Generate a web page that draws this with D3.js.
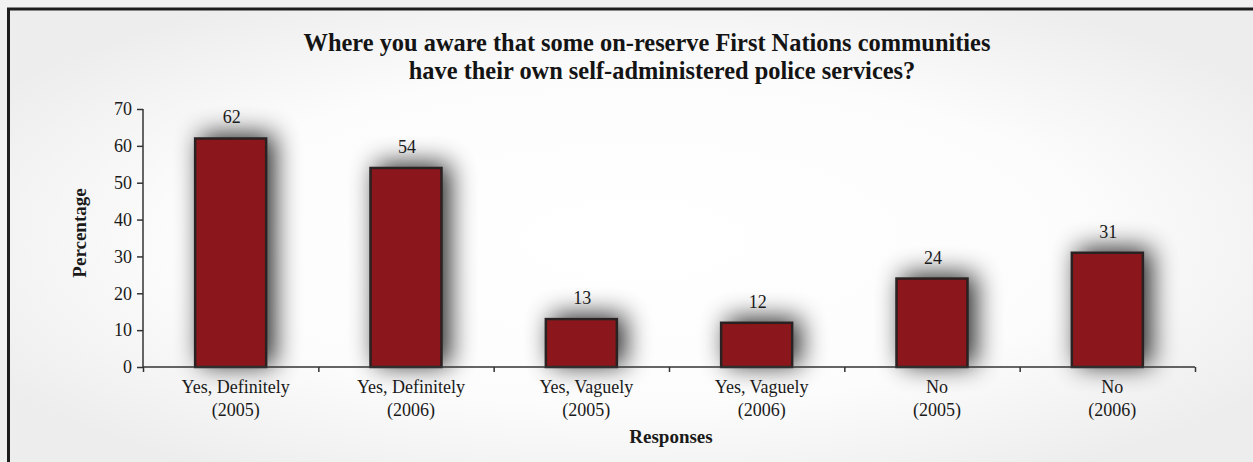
<!DOCTYPE html>
<html><head><meta charset="utf-8">
<script src="https://cdn.jsdelivr.net/npm/d3@7"></script>
<style>body{margin:0;background:#f1f1f1;} svg{display:block;}</style>
</head><body>
<svg id="c" width="1253" height="462"></svg>
<script>
const categories = ["Yes, Definitely|(2005)","Yes, Definitely|(2006)","Yes, Vaguely|(2005)","Yes, Vaguely|(2006)","No|(2005)","No|(2006)"];
const values = [62,54,13,12,24,31];
const yTicks = [0,10,20,30,40,50,60,70];
const titleLines = ["Where you aware that some on-reserve First Nations communities","have their own self-administered police services?"];

const W=1253,H=462;
const svg=d3.select("#c");
const defs=svg.append("defs");
const rg=defs.append("radialGradient").attr("id","bg").attr("cx","50%").attr("cy","50%").attr("r","60%");
rg.append("stop").attr("offset","0%").attr("stop-color","#ffffff");
rg.append("stop").attr("offset","60%").attr("stop-color","#fcfcfc");
rg.append("stop").attr("offset","100%").attr("stop-color","#ededed");
const f=defs.append("filter").attr("id","sh").attr("filterUnits","userSpaceOnUse")
 .attr("x",0).attr("y",0).attr("width",W).attr("height",H);
f.append("feGaussianBlur").attr("in","SourceAlpha").attr("stdDeviation",13).attr("result","b");
f.append("feOffset").attr("in","b").attr("dx",7).attr("dy",-3).attr("result","o");
f.append("feComponentTransfer").attr("in","o").attr("result","o2").append("feFuncA").attr("type","linear").attr("slope",0.85);
const m=f.append("feMerge"); m.append("feMergeNode").attr("in","o2"); m.append("feMergeNode").attr("in","SourceGraphic");

svg.append("rect").attr("width",W).attr("height",H).attr("fill","#f1f1f1");
svg.append("rect").attr("x",8).attr("y",9).attr("width",W).attr("height",H).attr("fill","url(#bg)");
svg.append("path").attr("d",`M8.5,${H} V9 H${W}`).attr("fill","none").attr("stroke","#1e1e1e").attr("stroke-width",3);

const font="'Liberation Serif','Times New Roman',serif";
const x=d3.scaleBand().domain(categories).range([143,1195]).paddingInner(0.595).paddingOuter(0.2975);
const y=d3.scaleLinear().domain([0,70]).range([367,109]);

const g=svg.append("g");
g.selectAll("rect.bar").data(values).join("rect").attr("class","bar")
 .attr("x",(d,i)=>x(categories[i])).attr("width",x.bandwidth())
 .attr("y",d=>y(d)).attr("height",d=>y(0)-y(d))
 .attr("fill","#8b181a").attr("stroke","#2a2222").attr("stroke-width",2.5)
 .attr("filter","url(#sh)");

g.selectAll("text.val").data(values).join("text").attr("class","val")
 .attr("x",(d,i)=>x(categories[i])+x.bandwidth()/2+1).attr("y",d=>y(d)-15)
 .attr("text-anchor","middle").attr("font-family",font).attr("font-size",18).attr("fill","#1a1a1a").text(d=>d);

// axes
const ya=svg.append("g").attr("transform","translate(143,0)")
 .call(d3.axisLeft(y).tickValues(yTicks).tickSize(6).tickPadding(5));
ya.select(".domain").attr("stroke","#333").attr("stroke-width",1.5).attr("d","M0,109V367");
ya.selectAll(".tick line").attr("stroke","#333").attr("stroke-width",1.5);
ya.selectAll("text").attr("font-family",font).attr("font-size",18).attr("fill","#1a1a1a");

const xb=d3.scaleLinear().domain([0,6]).range([143,1195]);
const xa=svg.append("g").attr("transform","translate(0,367)")
 .call(d3.axisBottom(xb).ticks(6).tickSize(5).tickFormat(""));
xa.select(".domain").attr("stroke","#333").attr("stroke-width",1.5).attr("d","M143,0H1195");
xa.selectAll(".tick line").attr("stroke","#333").attr("stroke-width",1.5);

const cl=svg.append("g").selectAll("text").data(categories).join("text")
 .attr("text-anchor","middle").attr("font-family",font).attr("font-size",18).attr("fill","#1a1a1a");
cl.each(function(d){
  const t=d3.select(this), cx=x(d)+x.bandwidth()/2+5, parts=d.split("|");
  parts.forEach((p,i)=>t.append("tspan").attr("x",cx).attr("y",393+i*23).text(p));
});

svg.append("text").attr("x",671).attr("y",443).attr("text-anchor","middle")
 .attr("font-family",font).attr("font-weight","bold").attr("font-size",19).attr("fill","#1a1a1a").text("Responses");
svg.append("text").attr("transform","translate(86,233) rotate(-90)").attr("text-anchor","middle")
 .attr("font-family",font).attr("font-weight","bold").attr("font-size",19).attr("fill","#1a1a1a").text("Percentage");

const tx=[647,662];
titleLines.forEach((l,i)=>svg.append("text").attr("x",tx[i]).attr("y",51+i*28).attr("text-anchor","middle")
 .attr("font-family",font).attr("font-weight","bold").attr("font-size",24.4).attr("fill","#141414").text(l));
</script>
</body></html>
